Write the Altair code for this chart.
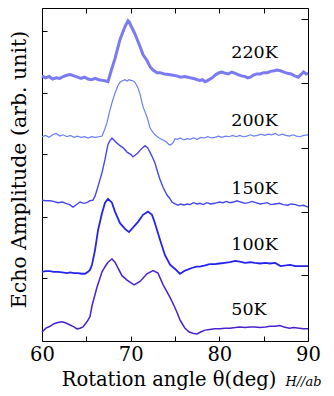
import altair as alt
import pandas as pd

# ---- data (angle in deg, echo amplitude in arb. units) ----
temps = ["220K", "200K", "150K", "100K", "50K"]

ang_220 = [60.0, 60.4, 60.8, 61.2, 61.6, 62.0, 62.4, 62.8, 63.2, 63.6, 64.0, 64.4, 64.8, 65.2, 65.6, 66.0, 66.4, 66.8, 67.2, 67.44,
           67.8, 68.23, 68.8, 69.36, 69.55, 69.7, 69.85, 70.0, 70.26, 70.5, 71.05, 71.4, 71.84, 72.2, 72.52, 72.97, 73.31, 73.8,
           74.3, 74.77, 75.2, 75.6, 76.1, 76.7, 77.1, 77.5, 77.8, 78.1, 78.4, 78.7, 79.2, 79.6, 80.0, 80.3, 80.7, 81.0, 81.4,
           81.8, 82.1, 82.5, 82.9, 83.2, 83.5, 83.8, 84.2, 84.6, 85.0, 85.4, 85.8, 86.2, 86.5, 86.9, 87.3, 87.7, 88.1, 88.5,
           88.9, 89.2, 89.5, 89.8, 90.0]
amp_220 = [4.14, 4.11, 4.13, 4.09, 4.11, 4.10, 4.13, 4.15, 4.16, 4.14, 4.12, 4.10, 4.12, 4.09, 4.08, 4.10, 4.08, 4.07, 4.06, 4.05,
           4.22, 4.41, 4.71, 4.91, 4.96, 5.00, 4.98, 4.93, 4.86, 4.79, 4.60, 4.47, 4.38, 4.28, 4.23, 4.19, 4.19, 4.17,
           4.16, 4.15, 4.14, 4.12, 4.13, 4.11, 4.10, 4.08, 4.07, 4.08, 4.05, 4.07, 4.11, 4.16, 4.19, 4.20, 4.18, 4.17, 4.20,
           4.18, 4.16, 4.14, 4.13, 4.11, 4.12, 4.15, 4.17, 4.17, 4.19, 4.19, 4.21, 4.22, 4.23, 4.22, 4.20, 4.18, 4.17, 4.14,
           4.12, 4.16, 4.20, 4.17, 4.18]

ang_200 = [60.0, 60.4, 60.8, 61.2, 61.6, 62.0, 62.4, 62.8, 63.2, 63.6, 64.0, 64.4, 64.8, 65.2, 65.6, 66.0, 66.4, 66.77, 67.05,
           67.33, 67.6, 67.89, 68.23, 68.57, 68.8, 69.02, 69.36, 69.6, 69.8, 70.04, 70.3, 70.49, 70.8, 71.05, 71.39, 71.84,
           72.18, 72.5, 72.74, 73.2, 73.65, 74.0, 74.3, 74.5, 74.8, 75.0, 75.3, 75.6, 76.0, 76.4, 76.7, 77.1, 77.5, 77.9,
           78.3, 78.7, 79.1, 79.5, 79.9, 80.3, 80.7, 81.1, 81.5, 81.9, 82.3, 82.7, 83.1, 83.5, 83.9, 84.3, 84.7, 85.1, 85.5,
           85.9, 86.3, 86.7, 87.1, 87.5, 87.9, 88.3, 88.7, 89.1, 89.5, 90.0]
amp_200 = [3.19, 3.21, 3.18, 3.22, 3.24, 3.20, 3.22, 3.19, 3.21, 3.18, 3.20, 3.18, 3.19, 3.17, 3.19, 3.18, 3.19, 3.20, 3.30,
           3.41, 3.57, 3.72, 3.87, 3.99, 4.04, 4.06, 4.08, 4.06, 4.08, 4.07, 4.06, 4.04, 3.96, 3.86, 3.66, 3.50,
           3.33, 3.26, 3.22, 3.17, 3.14, 3.11, 3.07, 3.06, 3.10, 3.16, 3.15, 3.17, 3.14, 3.16, 3.15, 3.17, 3.15, 3.18,
           3.17, 3.19, 3.17, 3.18, 3.20, 3.18, 3.20, 3.19, 3.21, 3.19, 3.21, 3.19, 3.20, 3.22, 3.20, 3.21, 3.23, 3.21, 3.23,
           3.22, 3.24, 3.21, 3.23, 3.21, 3.20, 3.22, 3.20, 3.19, 3.21, 3.22]

ang_150 = [60.0, 60.4, 60.9, 61.3, 61.8, 62.3, 62.7, 63.16, 63.5, 63.8, 64.29, 64.7, 65.07, 65.41, 65.75, 66.0, 66.2, 66.54,
           66.77, 67.11, 67.44, 67.67, 67.89, 68.1, 68.46, 68.8, 69.13, 69.59, 70.04, 70.26, 70.5, 70.83, 71.2, 71.62, 71.9,
           72.18, 72.52, 72.74, 73.08, 73.31, 73.65, 74.1, 74.4, 74.66, 75.0, 75.34, 75.6, 76.0, 76.4, 76.7, 77.1, 77.5, 77.8,
           78.2, 78.6, 79.0, 79.5, 80.0, 80.4, 80.8, 81.2, 81.6, 82.0, 82.4, 82.9, 83.3, 83.7, 84.1, 84.6, 85.0, 85.4, 85.8,
           86.3, 86.8, 87.2, 87.7, 88.1, 88.6, 89.0, 89.5, 90.0]
amp_150 = [2.20, 2.19, 2.19, 2.18, 2.16, 2.17, 2.15, 2.125, 2.09, 2.12, 2.17, 2.15, 2.16, 2.19, 2.20, 2.27, 2.36, 2.52,
           2.63, 2.84, 3.07, 3.13, 3.17, 3.14, 3.09, 3.05, 3.02, 2.95, 2.91, 2.875, 2.90, 2.94, 3.00, 3.05, 3.02,
           2.95, 2.85, 2.78, 2.62, 2.52, 2.40, 2.28, 2.23, 2.17, 2.14, 2.12, 2.14, 2.125, 2.14, 2.13, 2.16, 2.14, 2.15,
           2.13, 2.16, 2.14, 2.15, 2.17, 2.16, 2.18, 2.16, 2.17, 2.19, 2.17, 2.15, 2.16, 2.18, 2.16, 2.14, 2.15, 2.16, 2.13,
           2.14, 2.15, 2.13, 2.12, 2.14, 2.13, 2.11, 2.12, 2.09]

ang_100 = [60.0, 60.4, 60.9, 61.3, 61.8, 62.3, 62.8, 63.2, 63.6, 64.06, 64.5, 64.85, 65.19, 65.41, 65.64, 65.98, 66.32,
           66.77, 67.11, 67.44, 67.89, 68.23, 68.8, 69.36, 69.81, 70.26, 70.83, 71.39, 71.95, 72.41, 72.74, 73.31, 73.87,
           74.44, 75.0, 75.56, 75.8, 76.13, 76.35, 76.9, 77.4, 77.8, 78.4, 78.9, 79.5, 80.0, 80.6, 81.2, 81.8, 82.3, 82.9,
           83.5, 84.0, 84.6, 85.2, 85.7, 86.3, 86.9, 87.5, 87.97, 88.6, 89.1, 89.6, 90.0]
amp_100 = [1.08, 1.09, 1.09, 1.08, 1.08, 1.07, 1.06, 1.07, 1.06, 1.06, 1.05, 1.05, 1.08, 1.11, 1.19, 1.42, 1.73,
           2.00, 2.16, 2.22, 2.16, 2.02, 1.84, 1.75, 1.70, 1.77, 1.86, 1.97, 2.02, 1.97, 1.84, 1.58, 1.34,
           1.19, 1.125, 1.05, 1.07, 1.10, 1.11, 1.14, 1.16, 1.16, 1.18, 1.20, 1.20, 1.21, 1.22, 1.23, 1.25, 1.24, 1.22,
           1.23, 1.22, 1.21, 1.22, 1.21, 1.22, 1.17, 1.18, 1.19, 1.17, 1.17, 1.17, 1.17]

ang_50 = [60.0, 60.45, 60.9, 61.35, 61.8, 62.26, 62.7, 63.16, 63.6, 63.95, 64.3, 64.62, 65.07, 65.41, 65.64, 66.2, 66.77,
          67.11, 67.44, 67.89, 68.23, 68.46, 69.02, 69.59, 69.92, 70.38, 71.05, 71.84, 72.52, 73.08, 73.65, 74.44, 75.0,
          75.22, 75.56, 75.9, 76.13, 76.6, 77.0, 77.48, 77.9, 78.38, 78.9, 79.5, 80.1, 80.6, 81.2, 81.8, 82.3, 82.9, 83.5,
          84.0, 84.6, 85.2, 85.7, 86.3, 86.8, 87.3, 87.9, 88.4, 89.0, 89.5, 90.0]
amp_50 = [0.14, 0.20, 0.23, 0.27, 0.29, 0.30, 0.28, 0.25, 0.22, 0.19, 0.20, 0.22, 0.30, 0.38, 0.55, 0.84, 1.08,
          1.16, 1.23, 1.28, 1.23, 1.17, 1.02, 0.95, 0.92, 0.875, 0.93, 1.05, 1.10, 1.06, 0.88, 0.68, 0.52,
          0.45, 0.33, 0.25, 0.20, 0.14, 0.12, 0.11, 0.14, 0.17, 0.18, 0.19, 0.19, 0.20, 0.20, 0.21, 0.22, 0.21, 0.22,
          0.22, 0.21, 0.22, 0.23, 0.23, 0.24, 0.22, 0.20, 0.21, 0.20, 0.19, 0.19]

# temperature label anchors (data units)
label_angle = [81.35, 81.35, 81.35, 81.35, 81.35]
label_amp = [4.42, 3.36, 2.29, 1.42, 0.41]

series = {"220K": (ang_220, amp_220), "200K": (ang_200, amp_200), "150K": (ang_150, amp_150),
          "100K": (ang_100, amp_100), "50K": (ang_50, amp_50)}
colors = {"220K": "#7a7af2", "200K": "#6b7df7", "150K": "#4646ee", "100K": "#2424ee", "50K": "#4a22cc"}
widths = {"220K": 3.0, "200K": 1.2, "150K": 1.4, "100K": 1.8, "50K": 1.5}

x_ticks = [60, 65, 70, 75, 80, 85, 90]
x_labels = [60, 70, 80, 90]
y_ticks_left = [0.98, 1.94, 2.92, 3.87, 4.84]
y_ticks_right = [1.03, 2.01, 3.01, 4.03, 5.03]

FONT = "DejaVu Serif"
xs = alt.Scale(domain=[60, 90], nice=False, zero=False)
ys = alt.Scale(domain=[0, 5.2], nice=False, zero=False)

W, H = 266, 333

ax_x_labels = alt.Axis(orient="bottom", values=x_labels, ticks=False, domain=False, grid=False,
                       labelFont=FONT, labelFontSize=19.5, labelColor="black", labelPadding=4,
                       labelFlush=False, labelOverlap=False,
                       title="Rotation angle  θ(deg)", titleFont=FONT, titleFontSize=19.5,
                       titleFontWeight="normal", titleColor="black", titleX=126.5, titleY=44.7,
                       titleAlign="center", titleBaseline="alphabetic")
ax_x_bottom_ticks = alt.Axis(orient="top", offset=-H, values=x_ticks, labels=False, grid=False,
                             ticks=True, tickSize=5, tickColor="black", tickWidth=1,
                             domain=True, domainColor="black", domainWidth=1, title=None)
ax_x_top_ticks = alt.Axis(orient="bottom", offset=-H, values=x_ticks, labels=False, grid=False,
                          ticks=True, tickSize=5, tickColor="black", tickWidth=1,
                          domain=True, domainColor="black", domainWidth=1, title=None)
ax_y_title = alt.Axis(orient="left", ticks=False, labels=False, domain=False, grid=False,
                      title="Echo Amplitude (arb. unit)", titleFont=FONT, titleFontSize=20.5,
                      titleFontWeight="normal", titleColor="black", titleX=-17, titleY=161,
                      titleAngle=270, titleAlign="center", titleBaseline="alphabetic")
ax_y_left_ticks = alt.Axis(orient="right", offset=-W, values=y_ticks_left, labels=False, grid=False,
                           ticks=True, tickSize=5, tickColor="black", tickWidth=1,
                           domain=True, domainColor="black", domainWidth=1, title=None)
ax_y_right_ticks = alt.Axis(orient="left", offset=-W, values=y_ticks_right, labels=False, grid=False,
                            ticks=True, tickSize=7, tickColor="black", tickWidth=1,
                            domain=True, domainColor="black", domainWidth=1, title=None)

axis_map = {
    "50K": (ax_x_labels, ax_y_title),
    "100K": (ax_x_bottom_ticks, ax_y_left_ticks),
    "150K": (ax_x_top_ticks, ax_y_right_ticks),
}

layers = []
for t in temps:
    a, v = series[t]
    df = pd.DataFrame({"angle": a, "amp": v})
    xa, ya = axis_map.get(t, (None, None))
    layers.append(
        alt.Chart(df).mark_line(color=colors[t], strokeWidth=widths[t], interpolate="linear").encode(
            x=alt.X("angle:Q", scale=xs, axis=xa),
            y=alt.Y("amp:Q", scale=ys, axis=ya),
        )
    )

lab_df = pd.DataFrame({"angle": label_angle, "amp": label_amp, "label": temps})
layers.append(
    alt.Chart(lab_df).mark_text(font=FONT, fontSize=17.5, color="black", align="left",
                                baseline="alphabetic").encode(
        x=alt.X("angle:Q", scale=xs, axis=None),
        y=alt.Y("amp:Q", scale=ys, axis=None),
        text="label:N",
    )
)

note_df = pd.DataFrame({"angle": [87.45], "amp": [-0.70], "label": ["H//ab"]})
layers.append(
    alt.Chart(note_df).mark_text(font=FONT, fontSize=13, fontStyle="italic", color="black",
                                 align="left", baseline="alphabetic").encode(
        x=alt.X("angle:Q", scale=xs, axis=None),
        y=alt.Y("amp:Q", scale=ys, axis=None),
        text="label:N",
    )
)

chart = alt.layer(*layers).resolve_axis(x="independent", y="independent").properties(
    width=W, height=H,
    padding={"left": 34, "top": 0, "right": 18, "bottom": 52},
    autosize=alt.AutoSizeParams(type="none"),
    background="white",
).configure_view(stroke=None)

chart.save("out.html", embed_options={"renderer": "svg", "actions": False})
